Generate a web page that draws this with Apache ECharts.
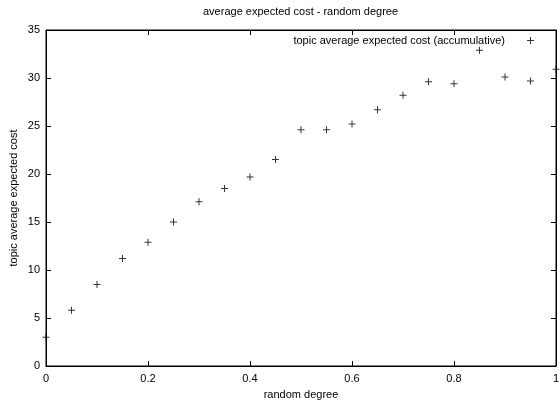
<!DOCTYPE html>
<html>
<head>
<meta charset="utf-8">
<script src="https://cdn.jsdelivr.net/npm/echarts@6/dist/echarts.min.js"></script>
<style>
  html, body { margin: 0; padding: 0; background: #fff; }
  #chart { width: 560px; height: 403px; }
</style>
</head>
<body>
<div id="chart"></div>
<script>
// random degree on x, cost on y
const degrees = [0, 0.05, 0.1, 0.15, 0.2, 0.25, 0.3, 0.35, 0.4, 0.45, 0.5,
  0.55, 0.6, 0.65, 0.7, 0.75, 0.8, 0.85, 0.9, 0.95, 1];
const costs = [3.0, 5.8, 8.5, 11.2, 12.9, 15.0, 17.1, 18.5, 19.7, 21.5, 24.6,
  24.6, 25.2, 26.7, 28.2, 29.6, 29.4, 32.9, 30.1, 29.7, 30.9];
const xTicks = [0, 0.2, 0.4, 0.6, 0.8, 1];
const yTicks = [0, 5, 10, 15, 20, 25, 30, 35];

const font = "'Liberation Sans', Arial, sans-serif";
const plus = "path://M3,0 H4 V3 H7 V4 H4 V7 H3 V4 H0 V3 H3 Z";

const chart = echarts.init(document.getElementById("chart"));

const tickStyle = { show: true, inside: true, length: 5, lineStyle: { color: "#000", width: 1 } };
const lineStyle = { show: true, onZero: false, lineStyle: { color: "#000", width: 1 } };

const option = {
  animation: false,
  title: {
    text: "average expected cost - random degree",
    left: 203,
    top: 6,
    padding: 0,
    textStyle: { fontFamily: font, fontSize: 11, fontWeight: "normal", color: "#000" }
  },
  legend: {
    right: 26,
    top: 35,
    padding: 0,
    align: "right",
    icon: plus,
    itemWidth: 7,
    itemHeight: 7,
    textStyle: { fontFamily: font, fontSize: 11, color: "#000", padding: [0, 17, 0, 0] },
    data: ["topic average expected cost (accumulative)"]
  },
  grid: {
    left: 46, right: 4, top: 30, bottom: 37,
    outerBoundsMode: "none",
    show: true, borderColor: "#000", borderWidth: 1, backgroundColor: "transparent"
  },
  xAxis: [
    {
      type: "value",
      min: xTicks[0],
      max: xTicks[xTicks.length - 1],
      interval: 0.2,
      name: "random degree",
      nameLocation: "middle",
      nameGap: 23,
      nameMoveOverlap: false,
      nameTextStyle: { fontFamily: font, fontSize: 11, color: "#000" },
      axisLine: lineStyle,
      axisTick: tickStyle,
      splitLine: { show: false },
      axisLabel: { fontFamily: font, fontSize: 11, color: "#000", margin: 7 }
    },
    {
      type: "value",
      position: "top",
      min: 0,
      max: 1,
      interval: 0.2,
      axisLine: lineStyle,
      axisTick: tickStyle,
      splitLine: { show: false },
      axisLabel: { show: false }
    }
  ],
  yAxis: [
    {
      type: "value",
      min: yTicks[0],
      max: yTicks[yTicks.length - 1],
      interval: 5,
      name: "topic average expected cost",
      nameLocation: "middle",
      nameGap: 27,
      nameMoveOverlap: false,
      nameTextStyle: { fontFamily: font, fontSize: 11, color: "#000" },
      axisLine: lineStyle,
      axisTick: tickStyle,
      splitLine: { show: false },
      axisLabel: { fontFamily: font, fontSize: 11, color: "#000", margin: 6 }
    },
    {
      type: "value",
      position: "right",
      min: 0,
      max: 35,
      interval: 5,
      axisLine: lineStyle,
      axisTick: tickStyle,
      splitLine: { show: false },
      axisLabel: { show: false }
    }
  ],
  series: [
    {
      name: "topic average expected cost (accumulative)",
      type: "scatter",
      symbol: plus,
      symbolSize: 7,
      itemStyle: { color: "#000" },
      data: degrees.map((d, i) => [d, costs[i]])
    }
  ]
};

chart.setOption(option);
</script>
</body>
</html>
